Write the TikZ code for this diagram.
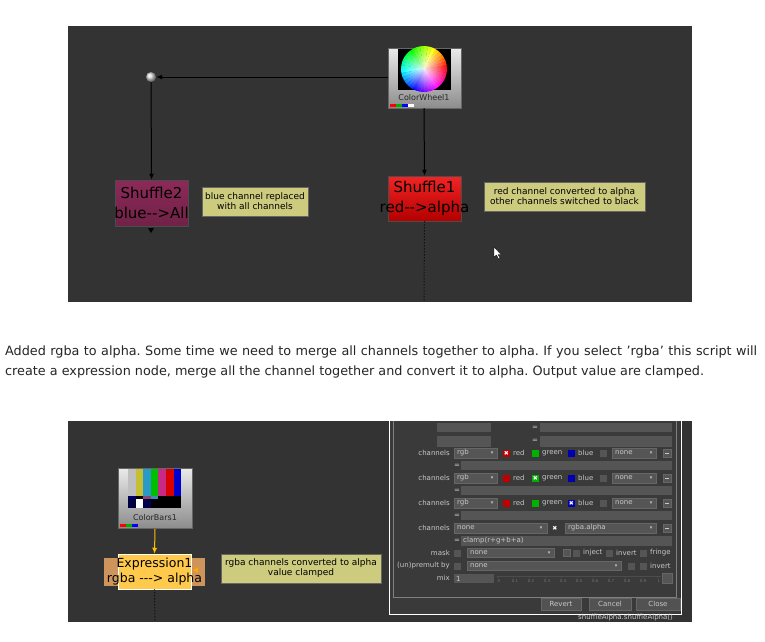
\documentclass[tikz,border=0pt]{standalone}
\usepackage{fontspec}
\setmainfont{DejaVu Sans}
\newfontfamily\nk{DejaVu Sans}
\usetikzlibrary{arrows.meta,fadings}
\tikzfading[name=cwfade, inner color=transparent!0, outer color=transparent!100]
\newcommand\dd{{\nk\fontsize{5}{5}\selectfont ▾}}
\newcommand\xx{{\nk\fontsize{6}{6}\selectfont ✖}}
\newcommand\sq{\char"27\relax}
\definecolor{bg}{HTML}{333333}
\definecolor{sticky}{HTML}{CDCB7E}
\definecolor{dlg}{HTML}{3A3A3A}
\definecolor{fld}{HTML}{555555}
\definecolor{txt}{HTML}{C8C8C8}
\definecolor{sh2c}{HTML}{8C2A58}
\tikzset{
 nodebox/.style={draw=black!70,line width=0.5pt,minimum width=73pt,inner sep=0pt},
 stick/.style={fill=sticky,draw=black!60,line width=0.4pt,inner sep=1pt,align=center,font=\nk\fontsize{9}{10}\selectfont},
 wire/.style={line width=1pt,-{Latex[length=6pt,width=5pt]}},
 fieldbox/.style={fill=fld,draw=black!60,line width=0.3pt},
 lab/.style={font=\nk\fontsize{7}{8}\selectfont,text=txt,inner sep=0pt},
}
\begin{document}
\begin{tikzpicture}[x=1pt,y=-1pt]
\useasboundingbox (0,0) rectangle (765,641);
\fill[white] (0,0) rectangle (765,641);
% ---------- top panel
\fill[bg] (68,26) rectangle (692,302);
% colorwheel node
\fill[top color=white!92!black,bottom color=black!45] (388,48) rectangle (461,108);
\draw[black!60] (388,48) rectangle (461,108);
\fill[black] (398,49) rectangle (451,90);
\foreach \i in {0,...,35}{
  \pgfmathsetmacro\hh{\i/36}
  \definecolor{tmp}{hsb}{\hh,1,1}
  \fill[tmp] (424,69) -- ++({-\i*10}:23) arc[start angle={-\i*10},end angle={-\i*10-10.5},radius=23] -- cycle;
}
\fill[white,path fading=cwfade,fill opacity=0.9] (424,69) circle (23);
\node[font=\nk\fontsize{8}{9}\selectfont,text=black!85] (cwl) at (424,98) {ColorWheel1};
\fill[red] (390,104) rectangle (396,107);\fill[green!70!black] (396,104) rectangle (402,107);
\fill[blue] (402,104) rectangle (408,107);\fill[white] (408,104) rectangle (414,107);
\coordinate (cwL) at (388,77);
\coordinate (cwB) at (424,108);
% dot
\node[circle,minimum size=10pt,inner sep=0pt,ball color=white!85!black,draw=none] (dot) at (151,77) {};
\draw[wire] (cwL) -- (dot);
% shuffle2
\node[nodebox,minimum height=46pt,top color=sh2c,bottom color=sh2c!80!black] (sh2) at (151.5,203) {};
\node[font=\nk\fontsize{15}{20}\selectfont,align=center,text=black] at (sh2) {Shuffle2\\blue-{}->All};
\draw[wire] (dot) -- (sh2.north);
\fill[black] (148,228) -- (154,228) -- (151,233) -- cycle;
\node[stick,minimum width=106pt,minimum height=29pt] (n1) at (255,201.5) {blue channel replaced\\with all channels};
% shuffle1
\node[nodebox,minimum height=45pt,top color=red!85!white!95!black,bottom color=red!70!black] (sh1) at (424.5,198.5) {};
\node[font=\nk\fontsize{15}{20}\selectfont,align=center,text=black] at (sh1) {Shuffle1\\red-{}->alpha};
\draw[wire] (cwB) -- (sh1.north);
\coordinate (sh1e) at (424,302);
\draw[black,line width=1pt,dotted] (sh1.south) -- (sh1e);
\node[stick,minimum width=161pt,minimum height=29pt] (n2) at (564.5,196.5) {red channel converted to alpha\\other channels switched to black};
% cursor
\fill[white,draw=black,line width=0.3pt] (494,247) -- (494,257) -- (496.5,255) -- (498.5,259) -- (500,258.3) -- (498,254.5) -- (501,254.5) -- cycle;
% ---------- paragraph
\node[anchor=north west,inner sep=0pt,text width=752pt,align=justify,font=\fontsize{12.8}{20}\selectfont\frenchspacing,text=black!85] (para) at (5,346)
{Added rgba to alpha. Some time we need to merge all channels together to alpha. If you select \sq rgba\sq{} this script will create a expression node, merge all the channel together and convert it to alpha. Output value are clamped.};
% ---------- bottom panel
\fill[bg] (68,421) rectangle (692,622);
% colorbars
\fill[top color=white!92!black,bottom color=black!45] (118,468) rectangle (192,528);
\draw[black!60] (118,468) rectangle (192,528);
\foreach \c [count=\k from 0] in {black!25,yellow!75!black,cyan!80!black,green!75!black,magenta!80!black,red!85!black,blue!80!black}{
  \fill[\c] ({128+\k*7.6},469) rectangle ({135.6+\k*7.6},496);}
\foreach \c [count=\k from 0] in {blue!40!black,black,magenta!50!black,cyan!70!black,black,black,black}{
  \fill[\c] ({128+\k*7.6},496) rectangle ({135.6+\k*7.6},499);}
\foreach \c [count=\k from 0] in {blue!25!black,white,blue!30!black,black,black,black,black}{
  \fill[\c] ({128+\k*7.6},499) rectangle ({135.6+\k*7.6},508);}
\node[font=\nk\fontsize{8}{9}\selectfont,text=black!85] (cbl) at (155,518) {ColorBars1};
\fill[red] (120,524) rectangle (126,527);\fill[green!70!black] (126,524) rectangle (132,527);
\fill[blue] (132,524) rectangle (138,527);
\coordinate (cbB) at (155,529);
% expression
\fill[orange!60!brown!80!black!70] (104,558) rectangle (205,586);
\node[nodebox,fill=orange!60!yellow!70!white,draw=white!80,minimum width=73pt,minimum height=35pt] (ex) at (154.5,571.5) {};
\node[font=\nk\fontsize{12.5}{15}\selectfont,align=center,text=black] at (ex) {Expression1\\rgba -{}-{}-> alpha};
\fill[orange!70!yellow] (193,570) -- (198,567) -- (198,573) -- cycle;
\draw[line width=1pt,orange!50!yellow,-{Latex[length=6pt,width=5pt]}] (cbB) -- (ex.north);
\coordinate (exe) at (155,622);
\draw[black,line width=1pt,dotted] (ex.south) -- (exe);
\node[stick,minimum width=160pt,minimum height=29pt] (n3) at (301,568.5) {rgba channels converted to alpha\\value clamped};
% ---------- dialog
\fill[dlg] (390,421) rectangle (680,615);
\draw[white!70,line width=1pt] (389,421) -- (389,614) -- (681,614) -- (681,421);
\draw[black!50] (393,421) -- (393,597) -- (676,597) -- (676,421);
\fill[bg] (682,421) rectangle (692,622);
\fill[bg] (390,615) rectangle (692,622);
\node[lab,anchor=west] (sa) at (578,618) {shuffleAlpha.shuffleAlpha()};
\fill[fld] (437,423) rectangle (491,432); \fill[fld] (540,423) rectangle (672,432);
\fill[fld] (437,436) rectangle (491,447); \fill[fld] (540,436) rectangle (672,447);
\node[lab] at (535,428) {=};\node[lab] at (535,441) {=};
% channel rows
\foreach \y in {453,478,503}{
  \node[lab,anchor=east] at (450,\y) {channels};
  \draw[fieldbox] (454,\y-5) rectangle (497,\y+5); \node[lab,anchor=west] at (457,\y) {rgb}; \node[lab] at (492,\y) {\dd};
  \fill[red!75!black] (503,\y-3.5) rectangle (510,\y+3.5); \node[lab,anchor=west] at (513,\y) {red};
  \fill[green!70!black] (532,\y-3.5) rectangle (539,\y+3.5); \node[lab,anchor=west] at (542,\y) {green};
  \fill[blue!70!black] (568,\y-3.5) rectangle (575,\y+3.5); \node[lab,anchor=west] at (578,\y) {blue};
  \fill[fld] (600,\y-3.5) rectangle (607,\y+3.5);
  \draw[fieldbox] (612,\y-5) rectangle (656,\y+5); \node[lab,anchor=west] at (615,\y) {none}; \node[lab] at (651,\y) {\dd};
  \draw[fieldbox] (663,\y-4) rectangle (671,\y+4); \draw[txt] (665,\y) -- (669,\y);
  \node[lab] at (457,\y+12.5) {=}; \fill[fld] (461,\y+8) rectangle (672,\y+17);
}
\node[lab,text=white] at (506.5,453) {\xx};
\node[lab,text=white] at (535.5,478) {\xx};
\node[lab,text=white] at (571.5,503) {\xx};
% alpha row
\node[lab,anchor=east] at (450,528) {channels};
\draw[fieldbox] (454,523) rectangle (547,533); \node[lab,anchor=west] at (457,528) {none}; \node[lab] at (541,528) {\dd};
\node[lab,text=white] at (555,528) {\xx};
\draw[fieldbox] (565,523) rectangle (656,533); \node[lab,anchor=west] at (568,528) {rgba.alpha}; \node[lab] at (651,528) {\dd};
\draw[fieldbox] (663,524) rectangle (671,532); \draw[txt] (665,528) -- (669,528);
\node[lab] at (457,541) {=}; \fill[fld] (461,536) rectangle (672,546);
\node[lab,anchor=west] at (463,541) {clamp(r+g+b+a)};
% mask
\node[lab,anchor=east] at (450,553) {mask};
\fill[fld] (454,549.5) rectangle (461,556.5);
\draw[fieldbox] (467,548.5) rectangle (554,557.5); \node[lab,anchor=west] at (470,553) {none}; \node[lab] at (549,553) {\dd};
\draw[fieldbox] (563,549.5) rectangle (570,556.5);
\fill[fld] (573,549.5) rectangle (580,556.5); \node[lab,anchor=west] at (583,553) {inject};
\fill[fld] (606,549.5) rectangle (613,556.5); \node[lab,anchor=west] at (616,553) {invert};
\fill[fld] (640,549.5) rectangle (647,556.5); \node[lab,anchor=west] at (650,553) {fringe};
% premult
\node[lab,anchor=east] at (450,566) {(un)premult by};
\fill[fld] (454,562.5) rectangle (461,569.5);
\draw[fieldbox] (467,561.5) rectangle (621,570.5); \node[lab,anchor=west] at (470,566) {none}; \node[lab] at (616,566) {\dd};
\fill[fld] (628,562.5) rectangle (635,569.5);
\fill[fld] (640,562.5) rectangle (647,569.5); \node[lab,anchor=west] at (650,566) {invert};
% mix
\node[lab,anchor=east] at (450,578) {mix};
\fill[fld] (454,574) rectangle (494,583); \node[lab,anchor=west] at (456,578.5) {1};
\draw[black!70] (497,576) -- (661,576);
\foreach \t [count=\k from 0] in {0,0.1,0.2,0.3,0.4,0.5,0.6,0.7,0.8,0.9,1}{
  \draw[black!70] ({497+\k*16},576) -- ({497+\k*16},578);
  \node[lab,font=\nk\fontsize{4}{5}\selectfont,text=black!55] at ({499+\k*16},581) {\t};}
\draw[fieldbox] (662,573) rectangle (672,583);
% buttons
\foreach \xa/\xb/\t in {541/581/Revert,589/631/Cancel,636/680/Close}{
  \draw[fieldbox,fill=black!68] (\xa,598) rectangle (\xb,610);
  \node[lab] at ({(\xa+\xb)/2},604) {\t};}
\end{tikzpicture}
\end{document}
